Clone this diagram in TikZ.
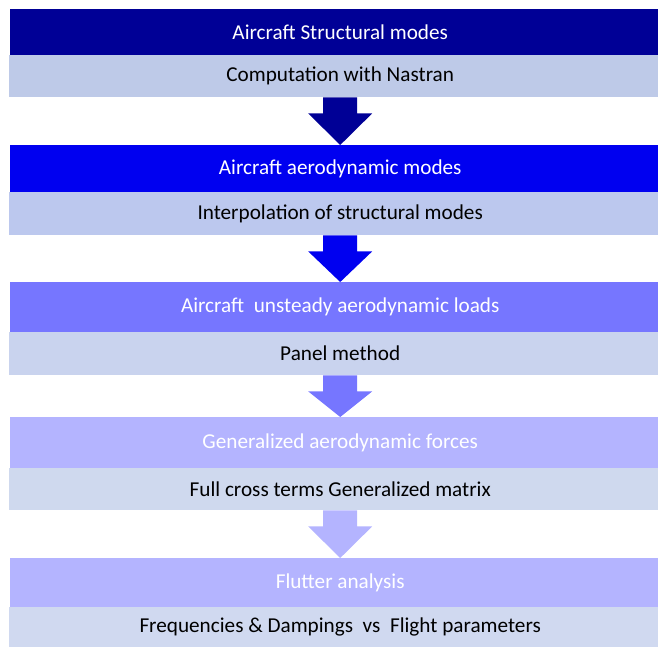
\documentclass[tikz,border=0pt]{standalone}
\usepackage{fontspec}
\setmainfont{Carlito}
\usetikzlibrary{positioning, calc}

\definecolor{navyhead}{RGB}{0,0,150}
\definecolor{bluehead}{RGB}{0,0,240}
\definecolor{midhead}{RGB}{118,118,255}
\definecolor{lighthead}{RGB}{180,180,255}
\definecolor{subone}{RGB}{190,202,232}
\definecolor{subtwo}{RGB}{188,200,238}
\definecolor{subthree}{RGB}{201,211,238}
\definecolor{subfour}{RGB}{207,217,238}
\definecolor{subfive}{RGB}{208,217,240}

\tikzset{
    head/.style={anchor=north west, minimum width=660pt, inner sep=0pt,
        text=white, font=\fontsize{21.2}{24}\selectfont},
    sub/.style={anchor=north west, minimum width=662pt, inner sep=0pt,
        text=black, font=\fontsize{21.2}{24}\selectfont},
}

% block arrow from the bottom of one step to the top of the next
\newcommand{\blockarrow}[3]{%
    \fill[#3] ($(#1.south)+(-17pt,0)$) -- ($(#1.south)+(17pt,0)$)
        -- ($(#1.south)+(17pt,-16pt)$) -- ($(#1.south)+(32pt,-16pt)$)
        -- (#2.north) -- ($(#1.south)+(-32pt,-16pt)$)
        -- ($(#1.south)+(-17pt,-16pt)$) -- cycle;}

\begin{document}
\begin{tikzpicture}[x=1pt, y=-1pt]

    \useasboundingbox (0,0) rectangle (658,647);
    \clip (0,0) rectangle (658,647);

    \node[head, fill=navyhead,   minimum height=46pt] (h1) at (10,9)   {Aircraft Structural modes};
    \node[sub,  fill=subone,     minimum height=42pt] (s1) at (9,55)   {Computation with Nastran};

    \node[head, fill=bluehead,   minimum height=47pt] (h2) at (10,145) {Aircraft aerodynamic modes};
    \node[sub,  fill=subtwo,     minimum height=43pt] (s2) at (9,192)  {Interpolation of structural modes};

    \node[head, fill=midhead,    minimum height=50pt] (h3) at (10,282) {Aircraft\ \ unsteady aerodynamic loads};
    \node[sub,  fill=subthree,   minimum height=43pt] (s3) at (9,332)  {Panel method};

    \node[head, fill=lighthead,  minimum height=51pt] (h4) at (10,417) {Generalized aerodynamic forces};
    \node[sub,  fill=subfour,    minimum height=42pt] (s4) at (9,468)  {Full cross terms Generalized matrix};

    \node[head, fill=lighthead,  minimum height=49pt] (h5) at (10,558) {Flutter analysis};
    \node[sub,  fill=subfive,    minimum height=40pt] (s5) at (9,607)  {Frequencies \& Dampings\ \ vs\ \ Flight parameters};

    \blockarrow{s1}{h2}{navyhead}
    \blockarrow{s2}{h3}{bluehead}
    \blockarrow{s3}{h4}{midhead}
    \blockarrow{s4}{h5}{lighthead}

\end{tikzpicture}
\end{document}
